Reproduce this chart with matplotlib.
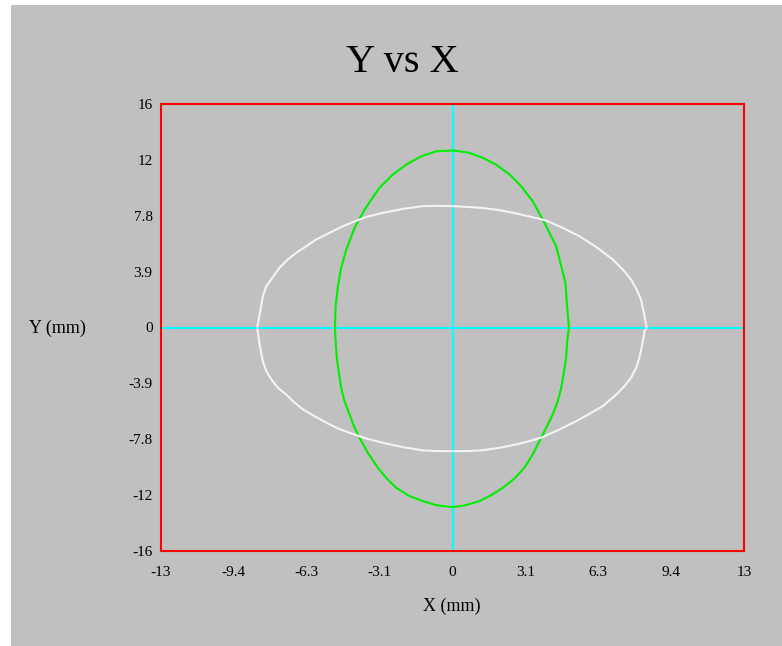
import numpy as np
import matplotlib
matplotlib.use("Agg")
import matplotlib.pyplot as plt
from matplotlib.patches import Rectangle

# =========================
# DATA (mm)
# =========================
white_x = [8.37, 8.25, 8.13, 7.94, 7.70, 7.34, 6.91, 6.19, 5.47, 4.75, 4.04, 3.39, 2.75, 2.03, 1.24, 0.59, 0.00,
           -0.70, -1.28, -2.14, -3.00, -3.72, -4.37, -4.87, -5.30, -5.88, -6.31, -6.74, -7.10, -7.46, -7.77,
           -8.03, -8.18, -8.29, -8.42,
           -8.32, -8.18, -8.03, -7.81, -7.53, -7.17, -6.88, -6.45, -5.95, -5.44, -4.94, -4.44, -3.72, -3.00,
           -2.14, -1.28, -0.63, 0.00,
           0.59, 1.24, 2.03, 2.75, 3.32, 3.89, 4.61, 5.33, 5.91, 6.48, 7.06, 7.41, 7.70, 7.92, 8.06, 8.18,
           8.28, 8.37]
white_y = [0.00, 1.02, 1.95, 2.65, 3.35, 4.05, 4.75, 5.63, 6.37, 6.96, 7.47, 7.72, 7.96, 8.19, 8.35, 8.42, 8.47,
           8.49, 8.47, 8.28, 8.00, 7.72, 7.31, 6.96, 6.61, 6.14, 5.67, 5.21, 4.75, 4.17, 3.47,
           2.88, 2.18, 1.14, 0.00,
           -1.19, -2.35, -3.05, -3.63, -4.21, -4.68, -5.14, -5.72, -6.19, -6.65, -7.05, -7.35, -7.75, -8.05,
           -8.35, -8.58, -8.63, -8.63,
           -8.63, -8.58, -8.40, -8.16, -7.93, -7.65, -7.12, -6.54, -6.02, -5.49, -4.68, -4.10, -3.51, -2.81,
           -2.11, -1.19, -0.26, 0.00]

green_x = [5.02, 4.93, 4.87, 4.69, 4.47, 4.18, 3.89, 3.46, 2.96, 2.46, 1.88, 1.31, 0.73, 0.30, 0.00,
           -0.70, -1.35, -2.00, -2.57, -3.15, -3.50, -3.79, -4.22, -4.58, -4.80, -4.94, -5.04, -5.07,
           -5.04, -4.99, -4.90, -4.80, -4.66, -4.44, -4.25, -4.01, -3.65, -3.22, -2.86, -2.43, -1.85,
           -1.28, -0.70, 0.00,
           0.52, 1.16, 1.67, 2.17, 2.67, 3.10, 3.46, 3.75, 4.04, 4.32, 4.54, 4.69, 4.80, 4.90, 4.94, 5.02]
green_y = [0.00, 1.72, 3.12, 4.28, 5.67, 6.61, 7.54, 8.81, 9.86, 10.68, 11.37, 11.84, 12.19, 12.30, 12.35,
           12.30, 11.95, 11.37, 10.68, 9.75, 8.93, 8.23, 6.96, 5.44, 4.17, 2.88, 1.49, 0.00,
           -0.96, -2.11, -3.16, -4.21, -5.14, -6.07, -6.89, -7.70, -8.75, -9.79, -10.49, -11.19, -11.77,
           -12.12, -12.40, -12.54,
           -12.42, -12.12, -11.70, -11.19, -10.54, -9.79, -8.86, -7.93, -7.00, -6.07, -5.14, -4.21, -3.16,
           -2.11, -1.07, 0.00]

x_limit = 12.57
y_limit = 15.6
x_tick_labels = ["-13", "-9.4", "-6.3", "-3.1", "0", "3.1", "6.3", "9.4", "13"]
y_tick_labels = ["-16", "-12", "-7.8", "-3.9", "0", "3.9", "7.8", "12", "16"]

GRAY = "#c0c0c0"
W_PX, H_PX = 782, 646

plt.rcParams["font.family"] = ["Liberation Serif", "DejaVu Serif"]

fig = plt.figure(figsize=(W_PX / 100, H_PX / 100), dpi=100)
fig.patch.set_facecolor("white")
# gray panel (small white strip on top and left like the original window grab)
fig.add_artist(Rectangle((11 / W_PX, 0), 1, 1 - 5 / H_PX,
                         transform=fig.transFigure, facecolor=GRAY,
                         edgecolor="none", zorder=0))

ax = fig.add_axes([161 / W_PX, 95 / H_PX, (744 - 161) / W_PX, (551 - 104) / H_PX])
ax.set_facecolor(GRAY)

# axis cross
ax.axhline(0, color="#00ffff", linewidth=1.5, zorder=1)
ax.axvline(0, color="#00ffff", linewidth=1.5, zorder=1)

ax.plot(green_x, green_y, color="#00ee00", linewidth=1.5, zorder=2)
ax.plot(white_x, white_y, color="#f4f4f4", linewidth=1.5, zorder=3)

ax.set_xlim(-x_limit, x_limit)
ax.set_ylim(-y_limit, y_limit)

ax.set_xticks(np.linspace(-x_limit, x_limit, len(x_tick_labels)))
ax.set_xticklabels(x_tick_labels)
ax.set_yticks(np.linspace(-y_limit, y_limit, len(y_tick_labels)))
ax.set_yticklabels(y_tick_labels)
ax.tick_params(axis="both", length=0, labelsize=11, colors="black")
ax.tick_params(axis="x", pad=11)
ax.tick_params(axis="y", pad=6)

for sp in ax.spines.values():
    sp.set_color("#ff0000")
    sp.set_linewidth(1.5)

fig.text(402 / W_PX, 1 - 62 / H_PX, "Y vs X", ha="center", va="center", fontsize=29)
fig.text(452 / W_PX, 1 - 606 / H_PX, "X (mm)", ha="center", va="center", fontsize=13)
fig.text(57 / W_PX, 1 - 328 / H_PX, "Y (mm)", ha="center", va="center", fontsize=13)

fig.savefig("out.png", dpi=100, facecolor=fig.get_facecolor())
